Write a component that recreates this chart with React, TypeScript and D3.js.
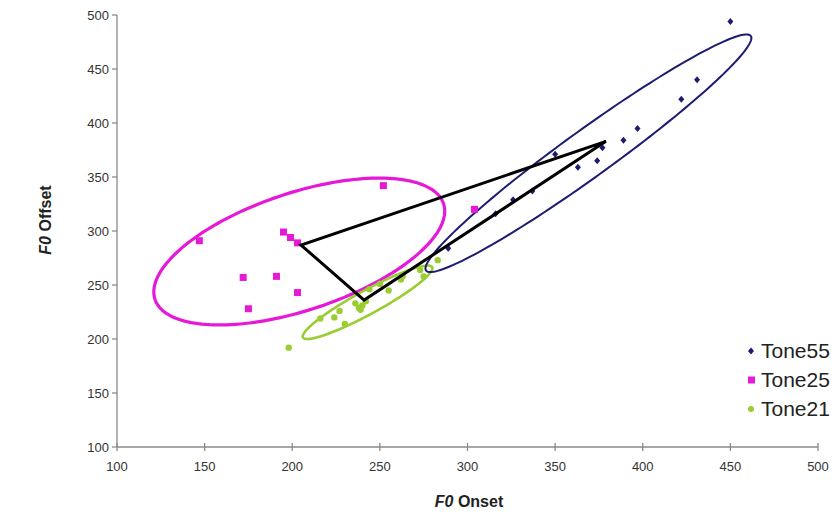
import React from "react";
import * as d3 from "d3";

const xTicks = [100, 150, 200, 250, 300, 350, 400, 450, 500];
const yTicks = [100, 150, 200, 250, 300, 350, 400, 450, 500];

const tone55: [number, number][] = [
  [450, 494], [431, 440], [422, 422], [397, 395], [389, 384], [377, 377],
  [374, 365], [363, 359], [350, 371], [337, 337], [326, 329], [316, 316], [289, 284],
];
const tone25: [number, number][] = [
  [147, 291], [195, 299], [199, 294], [203, 289], [172, 257], [191, 258],
  [203, 243], [175, 228], [252, 342], [304, 320],
];
const tone21: [number, number][] = [
  [198, 192], [216, 219], [224, 220], [227, 226], [230, 214], [236, 233],
  [238, 229], [240, 231], [242, 235], [239, 227], [244, 246], [250, 251],
  [255, 245], [263, 258], [275, 258], [273, 264], [283, 273], [262, 255],
];
const triangle: [number, number][] = [[205, 287], [241, 236], [379, 383]];

// ellipse: center x, center y, half-extent x, half-extent y, correlation
const ellipse55 = [369, 372, 93, 110, 0.97];
const ellipse25 = [204, 281, 83, 68, 0.55];
const ellipse21 = [243, 234, 37, 34, 0.93];

const seriesNames = ["Tone55", "Tone25", "Tone21"];
const colors = ["#1c1c72", "#e619d8", "#9acd32"];

const W = 835, H = 515;
const x = d3.scaleLinear().domain([100, 500]).range([117, 818]);
const y = d3.scaleLinear().domain([100, 500]).range([447, 15]);

function ellipsePath(e: number[]) {
  const [cx, cy, sx, sy, r] = e;
  const ts = d3.range(0, 360, 2).map((d) => (d * Math.PI) / 180);
  const pts: [number, number][] = ts.map((t) => [
    x(cx + sx * Math.cos(t)),
    y(cy + sy * (r * Math.cos(t) + Math.sqrt(1 - r * r) * Math.sin(t))),
  ]);
  return d3.line().curve(d3.curveLinearClosed)(pts) || "";
}

const font = "Arial, 'Liberation Sans', sans-serif";

export default function App() {
  const tri = d3.line().curve(d3.curveLinearClosed)(triangle.map((p) => [x(p[0]), y(p[1])] as [number, number])) || "";
  return (
    <svg width={W} height={H} style={{ position: "absolute", left: 0, top: 0, background: "#fff" }} fontFamily={font}>
      {/* axes */}
      <line x1={x(100)} x2={x(100)} y1={y(500)} y2={y(100)} stroke="#8a8a8a" strokeWidth={1.3} />
      <line x1={x(100)} x2={x(500)} y1={y(100)} y2={y(100)} stroke="#8a8a8a" strokeWidth={1.3} />
      {yTicks.map((t) => (
        <g key={"y" + t}>
          <line x1={x(100) - 5} x2={x(100)} y1={y(t)} y2={y(t)} stroke="#8a8a8a" strokeWidth={1.3} />
          <text x={x(100) - 8} y={y(t)} dy="0.35em" textAnchor="end" fontSize={13} fill="#333">{t}</text>
        </g>
      ))}
      {xTicks.map((t) => (
        <g key={"x" + t}>
          <line x1={x(t)} x2={x(t)} y1={y(100) - 4} y2={y(100) + 4} stroke="#8a8a8a" strokeWidth={1.3} />
          <text x={x(t)} y={y(100) + 24} textAnchor="middle" fontSize={13} fill="#333">{t}</text>
        </g>
      ))}
      {/* axis titles */}
      <text x={469} y={507} textAnchor="middle" fontSize={16} fontWeight="bold" fill="#222">
        <tspan fontStyle="italic">F0</tspan> Onset
      </text>
      <text transform="translate(51,220) rotate(-90)" textAnchor="middle" fontSize={16} fontWeight="bold" fill="#222">
        <tspan fontStyle="italic">F0</tspan> Offset
      </text>

      {/* ellipses */}
      <path d={ellipsePath(ellipse25)} fill="none" stroke={colors[1]} strokeWidth={3.2} />
      <path d={ellipsePath(ellipse21)} fill="none" stroke={colors[2]} strokeWidth={2.6} />
      <path d={ellipsePath(ellipse55)} fill="none" stroke={colors[0]} strokeWidth={2} />

      {/* points */}
      {tone25.map((p, i) => (
        <rect key={"p" + i} x={x(p[0]) - 3.5} y={y(p[1]) - 3.5} width={7} height={7} fill={colors[1]} />
      ))}
      {tone21.map((p, i) => (
        <circle key={"g" + i} cx={x(p[0])} cy={y(p[1])} r={3.2} fill={colors[2]} />
      ))}
      {tone55.map((p, i) => (
        <path key={"n" + i} d={`M${x(p[0])},${y(p[1]) - 3.5}l3,3.5l-3,3.5l-3,-3.5z`} fill={colors[0]} />
      ))}

      {/* triangle of means */}
      <path d={tri} fill="none" stroke="#000" strokeWidth={3} strokeLinejoin="miter" />

      {/* legend */}
      {seriesNames.map((s, i) => {
        const ly = 351 + i * 29;
        return (
          <g key={s}>
            {i === 0 && <path d={`M${751},${ly - 3.5}l3,3.5l-3,3.5l-3,-3.5z`} fill={colors[0]} />}
            {i === 1 && <rect x={748} y={ly - 3.5} width={7} height={7} fill={colors[1]} />}
            {i === 2 && <circle cx={751} cy={ly} r={3} fill={colors[2]} />}
            <text x={761} y={ly} dy="0.35em" fontSize={21} fill="#222">{s}</text>
          </g>
        );
      })}
    </svg>
  );
}
